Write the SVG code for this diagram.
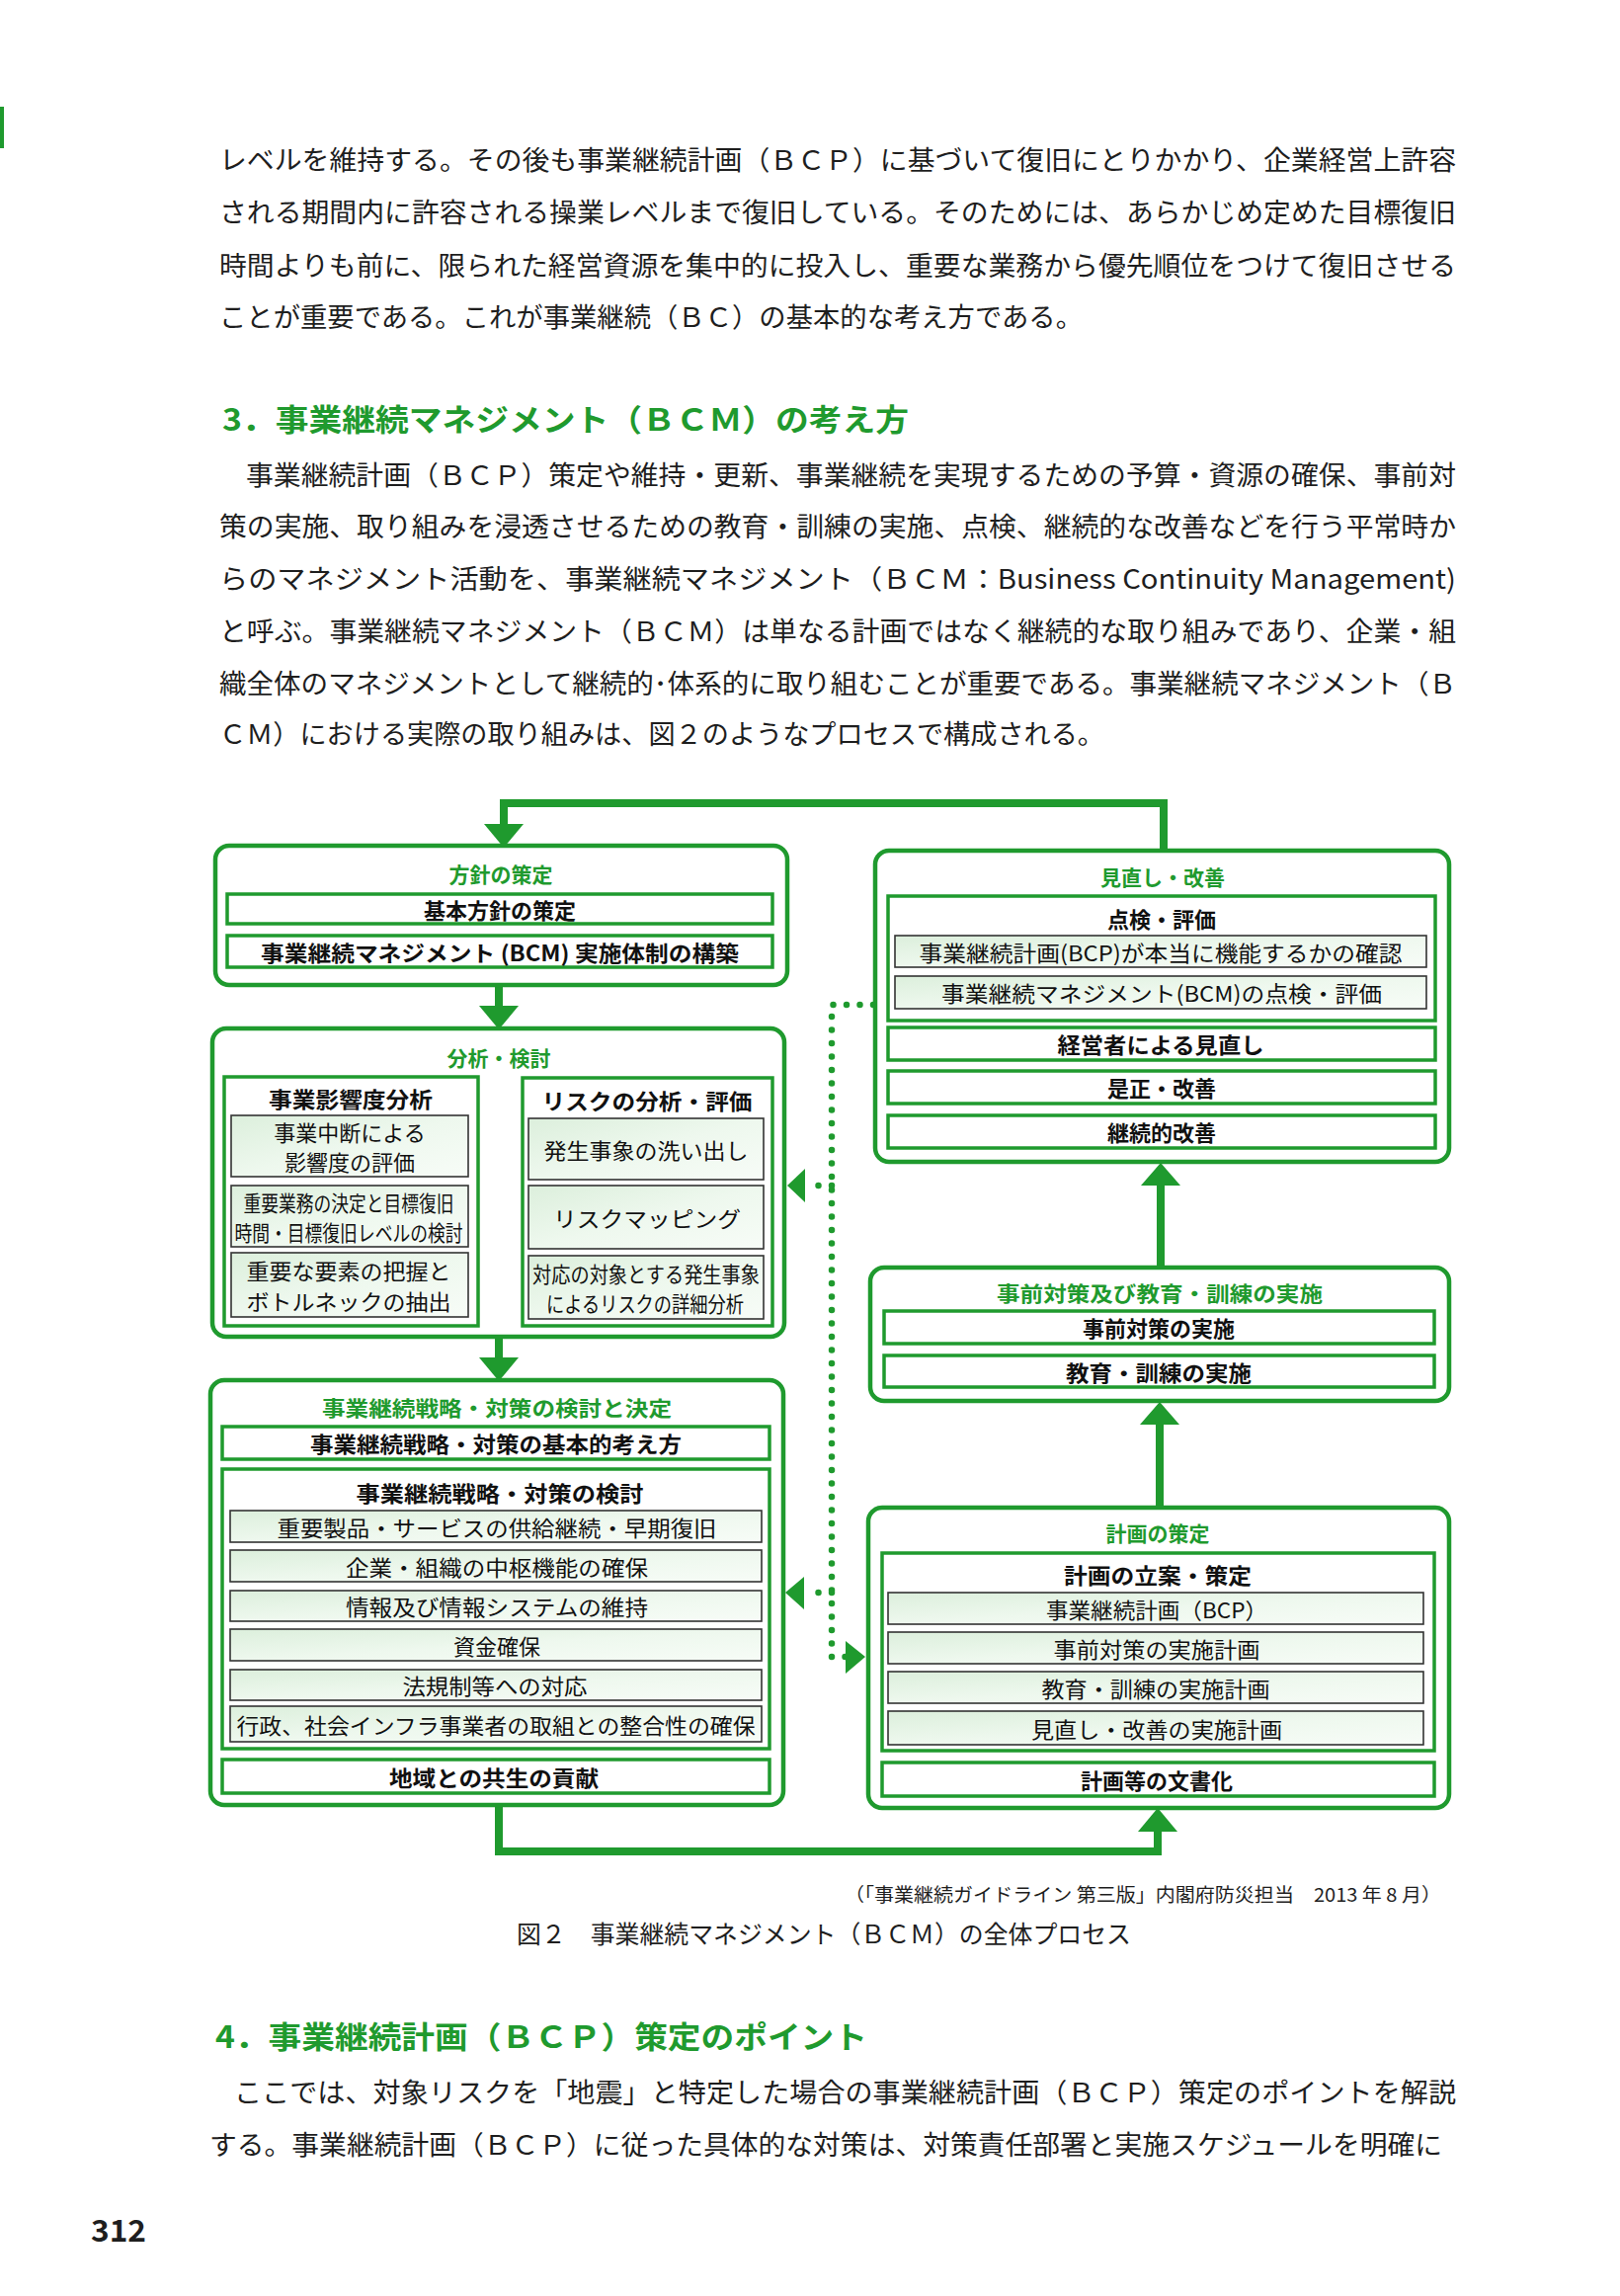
<svg xmlns="http://www.w3.org/2000/svg" width="1640" height="2324" viewBox="0 0 1640 2324">
<defs>
<style>
.body{font-family:"Noto Sans CJK JP","Noto Sans",sans-serif;font-size:27px;fill:#1e1e1e;dominant-baseline:central}
.h{font-family:"Noto Sans CJK JP","Noto Sans",sans-serif;font-size:31px;font-weight:700;fill:#1f9a2e;dominant-baseline:central}
.t{font-family:"Noto Sans CJK JP","Noto Sans",sans-serif;font-size:21px;font-weight:700;fill:#1f9a2e;text-anchor:middle;dominant-baseline:central}
.b{font-family:"Noto Sans CJK JP","Noto Sans",sans-serif;font-size:22px;font-weight:700;fill:#111;text-anchor:middle;dominant-baseline:central}
.n{font-family:"Noto Sans CJK JP","Noto Sans",sans-serif;font-size:22px;fill:#111;text-anchor:middle;dominant-baseline:central}
.cap{font-family:"Noto Sans CJK JP","Noto Sans",sans-serif;fill:#1e1e1e;dominant-baseline:central}
.outer{fill:#fff;stroke:#1f9a2e;stroke-width:4.5}
.frame{fill:#fff;stroke:#1f9a2e;stroke-width:3.5}
.item{fill:url(#lg);stroke:#333;stroke-width:1.6}
.conn{fill:none;stroke:#1f9a2e;stroke-width:8}
.dot{fill:none;stroke:#1f9a2e;stroke-width:6.5;stroke-linecap:round;stroke-dasharray:0 13.5}
.head{fill:#1f9a2e}
</style>
<linearGradient id="lg" x1="0" y1="0" x2="1" y2="1">
<stop offset="0" stop-color="#dcefdc"/>
<stop offset="0.5" stop-color="#eef8ee"/>
<stop offset="1" stop-color="#f7fcf7"/>
</linearGradient>
</defs>
<rect width="1640" height="2324" fill="#fff"/>
<rect x="0" y="108" width="4" height="42" fill="#1f9a2e"/>

<!-- body text -->
<g id="para1">
<text class="body" x="222" y="160" textLength="1252" lengthAdjust="spacingAndGlyphs">レベルを維持する。その後も事業継続計画（ＢＣＰ）に基づいて復旧にとりかかり、企業経営上許容</text>
<text class="body" x="222" y="213" textLength="1252" lengthAdjust="spacingAndGlyphs">される期間内に許容される操業レベルまで復旧している。そのためには、あらかじめ定めた目標復旧</text>
<text class="body" x="222" y="267" textLength="1252" lengthAdjust="spacingAndGlyphs">時間よりも前に、限られた経営資源を集中的に投入し、重要な業務から優先順位をつけて復旧させる</text>
<text class="body" x="222" y="319" textLength="874" lengthAdjust="spacingAndGlyphs">ことが重要である。これが事業継続（ＢＣ）の基本的な考え方である。</text>
</g>
<g id="heading3">
<text class="h" x="225" y="422" textLength="695" lengthAdjust="spacingAndGlyphs">3．事業継続マネジメント（ＢＣＭ）の考え方</text>
</g>
<g id="para2">
<text class="body" x="249" y="479" textLength="1225" lengthAdjust="spacingAndGlyphs">事業継続計画（ＢＣＰ）策定や維持・更新、事業継続を実現するための予算・資源の確保、事前対</text>
<text class="body" x="222" y="531" textLength="1252" lengthAdjust="spacingAndGlyphs">策の実施、取り組みを浸透させるための教育・訓練の実施、点検、継続的な改善などを行う平常時か</text>
<text class="body" x="222" y="584" textLength="1252" lengthAdjust="spacingAndGlyphs">らのマネジメント活動を、事業継続マネジメント（ＢＣＭ：Business Continuity Management)</text>
<text class="body" x="222" y="637" textLength="1252" lengthAdjust="spacingAndGlyphs">と呼ぶ。事業継続マネジメント（ＢＣＭ）は単なる計画ではなく継続的な取り組みであり、企業・組</text>
<text class="body" x="222" y="690" textLength="1252" lengthAdjust="spacingAndGlyphs">織全体のマネジメントとして継続的･体系的に取り組むことが重要である。事業継続マネジメント（Ｂ</text>
<text class="body" x="222" y="741" textLength="896" lengthAdjust="spacingAndGlyphs">ＣＭ）における実際の取り組みは、図２のようなプロセスで構成される。</text>
</g>

<!-- connectors -->
<g id="connectors">
<path class="conn" d="M1178 861 V813 H510 V836"/>
<polygon class="head" points="490,834 530,834 510,858"/>
<path class="conn" d="M505 997 V1020"/>
<polygon class="head" points="485,1018 525,1018 505,1042"/>
<path class="conn" d="M505 1353 V1376"/>
<polygon class="head" points="485,1374 525,1374 505,1398"/>
<path class="conn" d="M505 1827 V1874 H1172 V1852"/>
<polygon class="head" points="1152,1854 1192,1854 1172,1830"/>
<path class="conn" d="M1174 1526 V1440"/>
<polygon class="head" points="1154,1442 1194,1442 1174,1419"/>
<path class="conn" d="M1175 1283 V1198"/>
<polygon class="head" points="1155,1200 1195,1200 1175,1177"/>
<path class="conn" d="M496 1214 H514"/>
<polygon class="head" points="499,1200 499,1228 483,1214"/>
<polygon class="head" points="512,1200 512,1228 528,1214"/>
<path class="dot" d="M884 1017 H842 V1677"/>
<path class="dot" d="M842 1200 H820"/>
<polygon class="head" points="815,1183 815,1217 797,1200"/>
<path class="dot" d="M842 1612 H820"/>
<polygon class="head" points="814,1596 814,1629 795,1612"/>
<path class="dot" d="M842 1677 H856"/>
<polygon class="head" points="856,1661 856,1694 876,1677"/>
</g>

<!-- Box 1 -->
<g id="policy">
<rect class="outer" x="218" y="856" width="579" height="141" rx="14"/>
<text class="t" x="507" y="884">方針の策定</text>
<rect class="frame" x="230" y="905" width="552" height="30"/>
<text class="b" x="506" y="920">基本方針の策定</text>
<rect class="frame" x="230" y="947" width="552" height="32"/>
<text class="b" x="506" y="963" textLength="484" lengthAdjust="spacingAndGlyphs">事業継続マネジメント (BCM) 実施体制の構築</text>
</g>

<!-- Box 2 -->
<g id="analysis">
<rect class="outer" x="215" y="1041" width="579" height="312" rx="14"/>
<text class="t" x="505" y="1070">分析・検討</text>
<rect class="frame" x="227" y="1090" width="257" height="252"/>
<text class="b" x="355" y="1111" textLength="166" lengthAdjust="spacingAndGlyphs">事業影響度分析</text>
<rect class="item" x="234" y="1129" width="240" height="62"/>
<text class="n" x="354" y="1145">事業中断による</text>
<text class="n" x="354" y="1175">影響度の評価</text>
<rect class="item" x="234" y="1200" width="240" height="62"/>
<text class="n" x="353" y="1216" textLength="213" lengthAdjust="spacingAndGlyphs">重要業務の決定と目標復旧</text>
<text class="n" x="353" y="1246" textLength="231" lengthAdjust="spacingAndGlyphs">時間・目標復旧レベルの検討</text>
<rect class="item" x="234" y="1268" width="240" height="65"/>
<text class="n" x="353" y="1285" textLength="207" lengthAdjust="spacingAndGlyphs">重要な要素の把握と</text>
<text class="n" x="353" y="1316" textLength="207" lengthAdjust="spacingAndGlyphs">ボトルネックの抽出</text>
<rect class="frame" x="529" y="1091" width="253" height="251"/>
<text class="b" x="655" y="1113" textLength="213" lengthAdjust="spacingAndGlyphs">リスクの分析・評価</text>
<rect class="item" x="535" y="1132" width="238" height="62"/>
<text class="n" x="654" y="1163" textLength="207" lengthAdjust="spacingAndGlyphs">発生事象の洗い出し</text>
<rect class="item" x="535" y="1200" width="238" height="64"/>
<text class="n" x="655" y="1232" textLength="190" lengthAdjust="spacingAndGlyphs">リスクマッピング</text>
<rect class="item" x="535" y="1271" width="238" height="64"/>
<text class="n" x="654" y="1288" textLength="230" lengthAdjust="spacingAndGlyphs">対応の対象とする発生事象</text>
<text class="n" x="653" y="1318" textLength="200" lengthAdjust="spacingAndGlyphs">によるリスクの詳細分析</text>
</g>

<!-- Box 3 -->
<g id="strategy">
<rect class="outer" x="213" y="1397" width="580" height="430" rx="14"/>
<text class="t" x="503" y="1424" textLength="354" lengthAdjust="spacingAndGlyphs">事業継続戦略・対策の検討と決定</text>
<rect class="frame" x="225" y="1444" width="554" height="33"/>
<text class="b" x="502" y="1460" textLength="376" lengthAdjust="spacingAndGlyphs">事業継続戦略・対策の基本的考え方</text>
<rect class="frame" x="225" y="1487" width="554" height="283"/>
<text class="b" x="506" y="1510" textLength="291" lengthAdjust="spacingAndGlyphs">事業継続戦略・対策の検討</text>
<rect class="item" x="233" y="1529" width="538" height="32"/>
<text class="n" x="503" y="1545" textLength="445" lengthAdjust="spacingAndGlyphs">重要製品・サービスの供給継続・早期復旧</text>
<rect class="item" x="233" y="1569" width="538" height="32"/>
<text class="n" x="503" y="1585" textLength="306" lengthAdjust="spacingAndGlyphs">企業・組織の中枢機能の確保</text>
<rect class="item" x="233" y="1610" width="538" height="31"/>
<text class="n" x="503" y="1625" textLength="306" lengthAdjust="spacingAndGlyphs">情報及び情報システムの維持</text>
<rect class="item" x="233" y="1649" width="538" height="32"/>
<text class="n" x="503" y="1665">資金確保</text>
<rect class="item" x="233" y="1690" width="538" height="31"/>
<text class="n" x="501" y="1705" textLength="187" lengthAdjust="spacingAndGlyphs">法規制等への対応</text>
<rect class="item" x="233" y="1727" width="538" height="36"/>
<text class="n" x="502" y="1745" textLength="525" lengthAdjust="spacingAndGlyphs">行政、社会インフラ事業者の取組との整合性の確保</text>
<rect class="frame" x="225" y="1781" width="554" height="34"/>
<text class="b" x="500" y="1798" textLength="212" lengthAdjust="spacingAndGlyphs">地域との共生の貢献</text>
</g>

<!-- Box review -->
<g id="review">
<rect class="outer" x="886" y="861" width="581" height="315" rx="14"/>
<text class="t" x="1177" y="887">見直し・改善</text>
<rect class="frame" x="899" y="907" width="554" height="126"/>
<text class="b" x="1176" y="929">点検・評価</text>
<rect class="item" x="906" y="947" width="538" height="32"/>
<text class="n" x="1175" y="963" textLength="489" lengthAdjust="spacingAndGlyphs">事業継続計画(BCP)が本当に機能するかの確認</text>
<rect class="item" x="906" y="988" width="538" height="33"/>
<text class="n" x="1176" y="1004" textLength="446" lengthAdjust="spacingAndGlyphs">事業継続マネジメント(BCM)の点検・評価</text>
<rect class="frame" x="899" y="1040" width="554" height="33"/>
<text class="b" x="1175" y="1056" textLength="209" lengthAdjust="spacingAndGlyphs">経営者による見直し</text>
<rect class="frame" x="899" y="1084" width="554" height="33"/>
<text class="b" x="1176" y="1100">是正・改善</text>
<rect class="frame" x="899" y="1129" width="554" height="33"/>
<text class="b" x="1176" y="1145">継続的改善</text>
</g>

<!-- Box implementation -->
<g id="implementation">
<rect class="outer" x="881" y="1283" width="586" height="135" rx="14"/>
<text class="t" x="1174" y="1308" textLength="330" lengthAdjust="spacingAndGlyphs">事前対策及び教育・訓練の実施</text>
<rect class="frame" x="895" y="1327" width="557" height="33"/>
<text class="b" x="1173" y="1343">事前対策の実施</text>
<rect class="frame" x="895" y="1372" width="557" height="32"/>
<text class="b" x="1173" y="1388" textLength="188" lengthAdjust="spacingAndGlyphs">教育・訓練の実施</text>
</g>

<!-- Box plan -->
<g id="plan">
<rect class="outer" x="879" y="1526" width="588" height="304" rx="14"/>
<text class="t" x="1172" y="1551">計画の策定</text>
<rect class="frame" x="893" y="1572" width="559" height="200"/>
<text class="b" x="1172" y="1593" textLength="190" lengthAdjust="spacingAndGlyphs">計画の立案・策定</text>
<rect class="item" x="899" y="1612" width="542" height="32"/>
<text class="n" x="1171" y="1628" textLength="224" lengthAdjust="spacingAndGlyphs">事業継続計画（BCP）</text>
<rect class="item" x="899" y="1652" width="542" height="32"/>
<text class="n" x="1171" y="1668" textLength="209" lengthAdjust="spacingAndGlyphs">事前対策の実施計画</text>
<rect class="item" x="899" y="1692" width="542" height="32"/>
<text class="n" x="1170" y="1708" textLength="231" lengthAdjust="spacingAndGlyphs">教育・訓練の実施計画</text>
<rect class="item" x="899" y="1732" width="542" height="34"/>
<text class="n" x="1171" y="1749" textLength="254" lengthAdjust="spacingAndGlyphs">見直し・改善の実施計画</text>
<rect class="frame" x="893" y="1784" width="559" height="34"/>
<text class="b" x="1171" y="1801">計画等の文書化</text>
</g>

<!-- captions -->
<g id="captions">
<text class="cap" x="1459" y="1916" font-size="19" text-anchor="end" textLength="604" lengthAdjust="spacingAndGlyphs">（「事業継続ガイドライン 第三版」内閣府防災担当　2013 年 8 月）</text>
<text class="cap" x="523" y="1956" font-size="25" textLength="622" lengthAdjust="spacingAndGlyphs">図２　事業継続マネジメント（ＢＣＭ）の全体プロセス</text>
</g>
<g id="heading4">
<text class="h" x="218" y="2059" textLength="660" lengthAdjust="spacingAndGlyphs">4．事業継続計画（ＢＣＰ）策定のポイント</text>
</g>
<g id="para3">
<text class="body" x="237" y="2116" textLength="1237" lengthAdjust="spacingAndGlyphs">ここでは、対象リスクを「地震」と特定した場合の事業継続計画（ＢＣＰ）策定のポイントを解説</text>
<text class="body" x="212" y="2169" textLength="1248" lengthAdjust="spacingAndGlyphs">する。事業継続計画（ＢＣＰ）に従った具体的な対策は、対策責任部署と実施スケジュールを明確に</text>
</g>
<g id="pagenum">
<text class="cap" x="92" y="2255" font-size="31" font-weight="700" textLength="56" lengthAdjust="spacingAndGlyphs">312</text>
</g>
</svg>
